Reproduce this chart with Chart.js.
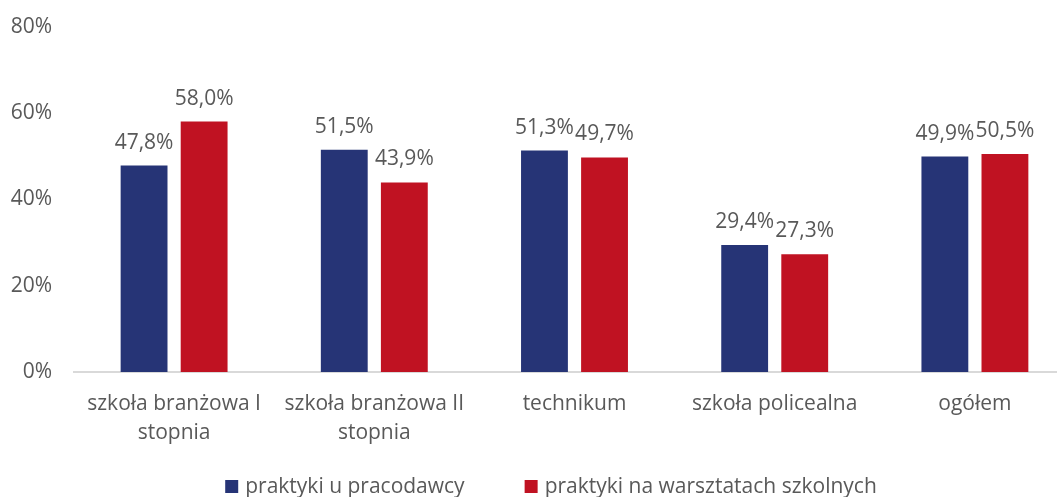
<!DOCTYPE html>
<html>
<head>
<meta charset="utf-8">
<script src="https://cdn.jsdelivr.net/npm/chart.js@4"></script>
<style>
  html, body { margin: 0; padding: 0; background: #fff; overflow: hidden; }
  #wrap { width: 1057px; height: 497px; overflow: hidden; }
</style>
</head>
<body>
<div id="wrap"><canvas id="chart" width="1075" height="497"></canvas></div>
<script>
const categories = [
  ["szkoła branżowa I", "stopnia"],
  ["szkoła branżowa II", "stopnia"],
  "technikum",
  "szkoła policealna",
  "ogółem"
];
const employerValues = [47.8, 51.5, 51.3, 29.4, 49.9];
const schoolValues = [58.0, 43.9, 49.7, 27.3, 50.5];
const yTicks = [0, 20, 40, 60, 80];

const gray = "#595959";
const font = "'Open Sans', sans-serif";

// value labels above each bar
const valueLabels = {
  id: "valueLabels",
  afterDatasetsDraw(chart) {
    const ctx = chart.ctx;
    ctx.save();
    ctx.font = "21px " + font;
    ctx.fillStyle = gray;
    ctx.textAlign = "center";
    ctx.textBaseline = "alphabetic";
    chart.data.datasets.forEach((ds, i) => {
      chart.getDatasetMeta(i).data.forEach((bar, j) => {
        const txt = ds.data[j].toFixed(1).replace(".", ",") + "%";
        ctx.fillText(txt, bar.x, bar.y - 17);
      });
    });
    ctx.restore();
  }
};

// legend drawn by hand so the spacing matches the original
const bottomLegend = {
  id: "bottomLegend",
  afterDraw(chart) {
    const ctx = chart.ctx;
    const box = 13, gap = 7, between = 60, cy = 486.5, center = 551;
    ctx.save();
    ctx.font = "21px " + font;
    ctx.textBaseline = "middle";
    ctx.textAlign = "left";
    const items = chart.data.datasets.map(ds => ({
      text: ds.label, color: ds.backgroundColor, w: ctx.measureText(ds.label).width
    }));
    const total = items.reduce((s, it) => s + box + gap + it.w, 0) + between * (items.length - 1);
    let x = center - total / 2;
    items.forEach(it => {
      ctx.fillStyle = it.color;
      ctx.fillRect(x, cy - box / 2, box, box);
      ctx.fillStyle = gray;
      ctx.fillText(it.text, x + box + gap, cy + 1);
      x += box + gap + it.w + between;
    });
    ctx.restore();
  }
};

new Chart(document.getElementById("chart"), {
  type: "bar",
  data: {
    labels: categories,
    datasets: [
      {
        label: "praktyki u pracodawcy",
        data: employerValues,
        backgroundColor: "#263476"
      },
      {
        label: "praktyki na warsztatach szkolnych",
        data: schoolValues,
        backgroundColor: "#c01222"
      }
    ]
  },
  options: {
    responsive: false,
    animation: false,
    devicePixelRatio: 1,
    categoryPercentage: 0.6,
    barPercentage: 0.78,
    layout: { padding: { top: 8, left: 0, right: 0, bottom: 0 } },
    plugins: {
      tooltip: { enabled: false },
      legend: { display: false }
    },
    scales: {
      x: {
        grid: { display: false },
        border: { display: true, color: "#d9d9d9", width: 2 },
        afterFit(scale) {
          scale.height = 125;
        },
        ticks: {
          font: { family: font, size: 21, lineHeight: 1.38 },
          color: gray,
          padding: 10,
          maxRotation: 0,
          autoSkip: false
        }
      },
      y: {
        min: 0,
        max: 80,
        afterBuildTicks(scale) {
          scale.ticks = yTicks.map(v => ({ value: v }));
        },
        afterFit(scale) {
          scale.width = 74;
        },
        grid: { display: false },
        border: { display: false },
        ticks: {
          font: { family: font, size: 21 },
          color: gray,
          padding: 14,
          callback: v => v + "%"
        }
      }
    }
  },
  plugins: [valueLabels, bottomLegend]
});
</script>
</body>
</html>
